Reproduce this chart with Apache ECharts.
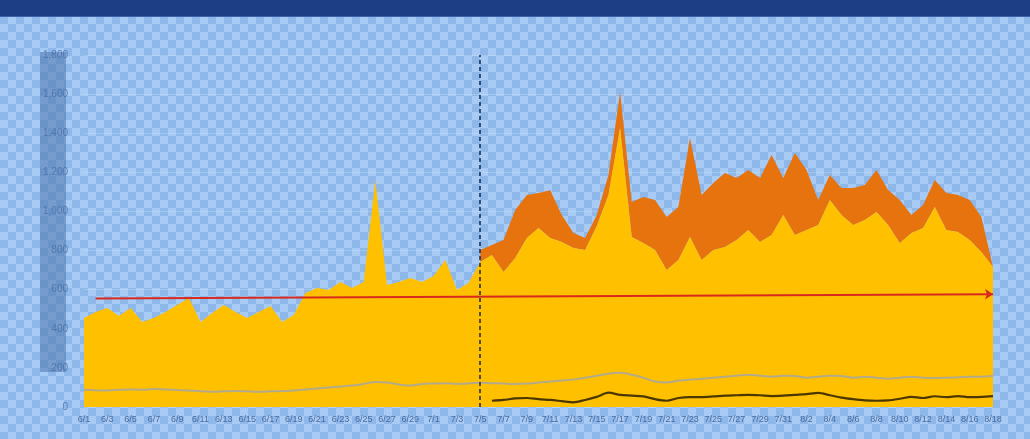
<!DOCTYPE html>
<html><head><meta charset="utf-8">
<script src="https://cdn.jsdelivr.net/npm/echarts@6/dist/echarts.min.js"></script>
<style>
html,body{margin:0;padding:0;width:1030px;height:439px;overflow:hidden;
background:repeating-conic-gradient(#a7cbf5 0 25%, #8fb8ea 0 50%) 0 0/16px 16px;}
#band{position:absolute;left:0;top:0;width:1030px;height:16px;background:#1d3d84;border-bottom:1px solid #3a62a8;}
#c{position:absolute;left:0;top:0;width:1030px;height:439px;}
</style></head><body>
<div id="band"></div>
<div id="c"></div>
<script>
const categories = ['6/1','6/2','6/3','6/4','6/5','6/6','6/7','6/8','6/9','6/10','6/11','6/12','6/13','6/14','6/15','6/16','6/17','6/18','6/19','6/20','6/21','6/22','6/23','6/24','6/25','6/26','6/27','6/28','6/29','6/30',
'7/1','7/2','7/3','7/4','7/5','7/6','7/7','7/8','7/9','7/10','7/11','7/12','7/13','7/14','7/15','7/16','7/17','7/18','7/19','7/20','7/21','7/22','7/23','7/24','7/25','7/26','7/27','7/28','7/29','7/30','7/31',
'8/1','8/2','8/3','8/4','8/5','8/6','8/7','8/8','8/9','8/10','8/11','8/12','8/13','8/14','8/15','8/16','8/17','8/18'];

const yellowValues = [455,486,506,465,506,435,455,486,522,557,435,481,522,486,455,486,516,435,471,583,609,598,639,609,639,1160,624,639,660,639,
670,752,598,634,742,777,690,762,864,915,864,844,813,803,926,1084,1427,869,839,803,701,752,869,752,803,818,854,905,844,880,982,
880,905,931,1059,982,931,956,997,931,839,890,915,1023,905,895,854,793,716];

const orangeValues = [null,null,null,null,null,null,null,null,null,null,null,null,null,null,null,null,null,null,null,null,null,null,null,null,null,null,null,null,null,null,
null,null,null,null,61,51,164,245,220,179,245,138,77,61,56,102,184,179,235,256,271,271,506,332,343,378,317,307,327,409,189,
419,307,128,128,138,189,179,215,179,220,92,118,138,189,189,205,179,0];

const grayValues = [88,86,85,88,90,88,92,90,87,85,80,78,80,82,80,78,80,82,85,90,95,100,105,110,118,128,125,115,110,118,
120,122,118,120,125,122,120,118,120,125,130,135,140,150,160,170,175,165,150,130,125,135,140,145,150,155,160,165,160,155,160,
158,150,155,160,158,150,155,150,145,150,155,150,148,150,152,155,155,158];

const darkValues = [null,null,null,null,null,null,null,null,null,null,null,null,null,null,null,null,null,null,null,null,null,null,null,null,null,null,null,null,null,null,
null,null,null,null,null,32,36,44,46,40,36,30,24,36,52,73,62,58,54,40,32,46,51,51,54,58,60,62,60,56,58,
62,66,72,60,48,40,34,32,34,42,52,46,55,50,56,50,52,56];

const targetStart = ['6/2', 555];
const targetEnd = ['8/18', 577];
const splitDay = '7/5';

const chart = echarts.init(document.getElementById('c'));
chart.setOption({
  animation:false,
  backgroundColor:'transparent',
  grid:{left:84,right:37,top:55,bottom:32,containLabel:false},
  xAxis:{type:'category',data:categories,boundaryGap:false,
    axisLine:{show:false},axisTick:{show:false},
    axisLabel:{interval:1,color:'#4d6a9c',fontSize:9,margin:8,fontFamily:'Liberation Sans'}},
  yAxis:{type:'value',min:0,max:1800,interval:200,
    axisLine:{show:false},axisTick:{show:false},
    axisLabel:{color:'#5a7fb6',fontSize:10,margin:16,fontFamily:'Liberation Sans'},
    splitLine:{lineStyle:{color:'rgba(255,255,255,0.18)',width:1}}},
  graphic:[{type:'rect',left:40,top:52,shape:{width:26,height:320},z:100,
    style:{fill:'rgba(70,110,165,0.5)'}}],
  series:[
    {name:'yellow',type:'line',stack:'a',data:yellowValues,symbol:'none',
     lineStyle:{width:0},areaStyle:{color:'#FFC000',opacity:1},itemStyle:{color:'#FFC000'},z:2},
    {name:'orange',type:'line',stack:'a',data:orangeValues,symbol:'none',
     lineStyle:{width:0},areaStyle:{color:'#E6730E',opacity:1},itemStyle:{color:'#E6730E'},z:1},
    {name:'gray',type:'line',data:grayValues,symbol:'none',smooth:0.3,
     lineStyle:{color:'#b3aa8a',width:2},z:3},
    {name:'dark',type:'line',data:darkValues,symbol:'none',smooth:0.3,
     lineStyle:{color:'#4a3800',width:2.2},z:3},
    {name:'target',type:'line',data:[],symbol:'none',z:5,
     markLine:{silent:true,symbol:['none','arrow'],symbolSize:8,label:{show:false},
       lineStyle:{color:'#d8291e',type:'solid',width:2},
       data:[[{coord:targetStart},{coord:targetEnd}]]}},
    {name:'split',type:'line',data:[],symbol:'none',z:6,
     markLine:{silent:true,symbol:['none','none'],label:{show:false},
       lineStyle:{color:'#1a2540',type:[4,3],width:1.5},
       data:[{xAxis:splitDay}]}}
  ]
});
</script>
</body></html>
